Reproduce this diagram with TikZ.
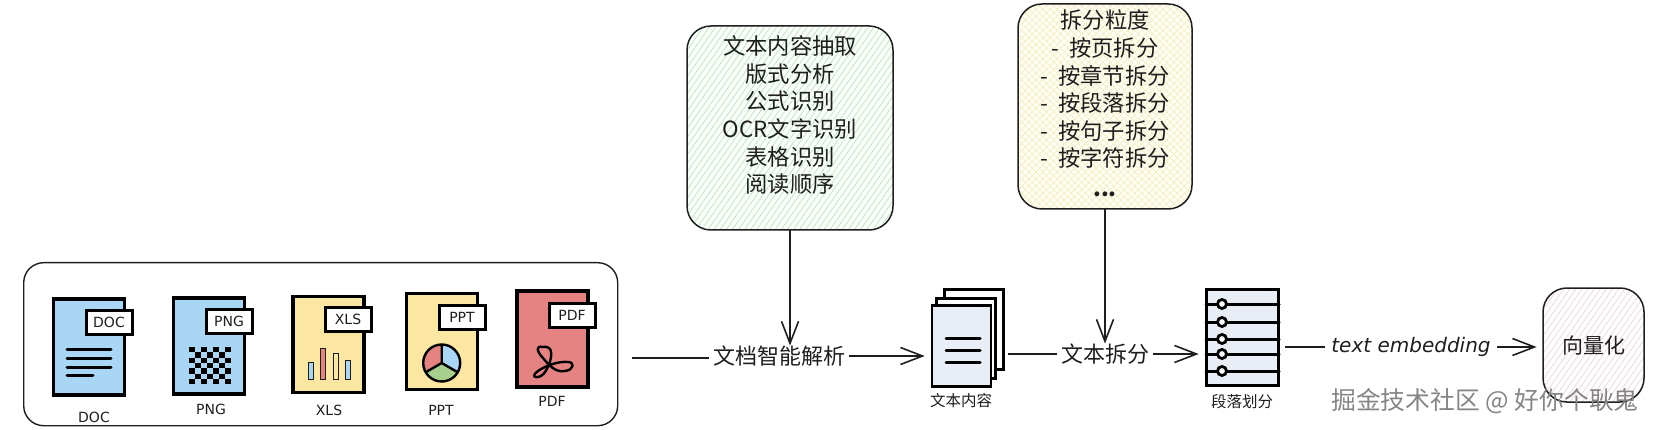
\documentclass[tikz,border=0pt]{standalone}
\usepackage{xcolor}
\usepackage{fontspec}
\usetikzlibrary{arrows.meta, positioning, patterns.meta}
\setmainfont{Noto Sans CJK SC}
\newfontfamily\handfont{DejaVu Sans}
\definecolor{myink}{HTML}{1e1e1e}
\definecolor{myblue}{HTML}{a9d6f5}
\definecolor{myyellow}{HTML}{fbe6a2}
\definecolor{myred}{HTML}{e58383}
\definecolor{mygreen}{HTML}{a8d08d}
\definecolor{mypage}{HTML}{e9edf6}
\definecolor{mymark}{HTML}{858585}
\definecolor{myhatchgreen}{HTML}{c4e3c8}
\definecolor{myhatchyellow}{HTML}{f3edc0}
\definecolor{myhatchred}{HTML}{f0d4d4}

\begin{document}
\begin{tikzpicture}[
  x=1pt, y=-1pt,
  every node/.style={text=myink, inner sep=0pt},
  group/.style={rectangle, rounded corners=20pt, draw=myink, line width=1.4pt, anchor=north west},
  hatchbox/.style={rectangle, rounded corners=24pt, draw=myink, line width=1.5pt, font=\fontsize{22.3}{27.6}\selectfont, align=center},
  filebody/.style={rectangle, draw=black, line width=3.2pt, minimum width=71pt, minimum height=96pt},
  filetag/.style={rectangle, draw=black, line width=3pt, fill=white, minimum width=46pt, minimum height=24pt, font=\handfont\fontsize{14}{14}\selectfont},
  filelabel/.style={font=\handfont\fontsize{14}{14}\selectfont},
  step label/.style={font=\fontsize{22}{22}\selectfont, inner xsep=4pt},
  small label/.style={font=\fontsize{15.5}{15.5}\selectfont},
  inkline/.style={line width=3pt, black, line cap=round},
  thinbox/.style={draw=myink, line width=1pt},
  page/.style={rectangle, draw=black, line width=2.6pt, fill=white, minimum width=59pt, minimum height=80pt},
  arr/.style={-{Straight Barb[length=22pt, width=17pt]}, line width=1.6pt, color=myink},
  feed/.style={line width=1.6pt, color=myink},
]
% source files
\node[group, minimum width=594pt, minimum height=163pt] (files) at (23,262) {};

\node[filebody, fill=myblue] (doc) at (89,347) {};
\node[filetag] (doctag) at (109,322) {DOC};
\node[filelabel] (doclabel) at (94,417) {DOC};
\draw[inkline] (67,349) -- (111,349);
\draw[inkline] (67,358) -- (111,358);
\draw[inkline] (67,367) -- (111,367);
\draw[inkline] (67,375) -- (93,375);

\node[filebody, fill=myblue] (png) at (209,346) {};
\node[filetag] (pngtag) at (229,321) {PNG};
\node[filelabel] (pnglabel) at (211,409) {PNG};
\foreach \i in {0,...,6}
  \foreach \j in {0,...,6} {
    \pgfmathparse{int(mod(\i+\j,2))}
    \ifnum\pgfmathresult=0
      \fill[black] (189+\i*6,347+\j*5.3) rectangle +(6,5.3);
    \fi
  }

\node[filebody, fill=myyellow] (xls) at (328.5,344.5) {};
\node[filetag] (xlstag) at (348,319.5) {XLS};
\node[filelabel] (xlslabel) at (329,410) {XLS};
\draw[thinbox, fill=myblue] (308,362) rectangle (313,379);
\draw[thinbox, fill=myred] (320,348) rectangle (325,379);
\draw[thinbox, fill=myyellow] (333,353) rectangle (338,379);
\draw[thinbox, fill=myblue] (345,360) rectangle (350,379);

\node[filebody, fill=myyellow] (ppt) at (442,341.5) {};
\node[filetag] (ppttag) at (462,317.5) {PPT};
\node[filelabel] (pptlabel) at (441,410) {PPT};
\coordinate (pie) at (441.7,363);
\fill[myred] (pie) -- (441.7,344.5) arc[start angle=90, end angle=210, x radius=18.5pt, y radius=18.5pt] -- cycle;
\fill[myblue] (pie) -- (441.7,344.5) arc[start angle=90, end angle=-30, x radius=18.5pt, y radius=18.5pt] -- cycle;
\fill[mygreen] (pie) -- ++(-16,9.25) arc[start angle=210, end angle=330, x radius=18.5pt, y radius=18.5pt] -- cycle;
\draw[black, line width=2.4pt] (pie) circle[radius=18.5pt];
\draw[black, line width=2.4pt] (441.7,344.5) -- (pie) -- ++(-16,9.25) (pie) -- ++(16,9.25);

\node[filebody, fill=myred] (pdf) at (552.5,339) {};
\node[filetag] (pdftag) at (572,315.5) {PDF};
\node[filelabel] (pdflabel) at (552,401) {PDF};
\draw[black, line width=2.4pt, line join=round]
  (543,347) .. controls (535,345) and (537,352) .. (543,358) .. controls (548,364) and (555,373) .. (565,371)
  .. controls (574,370) and (575,362) .. (568,362) .. controls (558,361) and (545,366) .. (538,371)
  .. controls (531,376) and (534,379) .. (541,376) .. controls (548,372) and (555,352) .. (549,348)
  .. controls (547,346) and (545,347) .. (543,347);

% pipeline
\coordinate (start) at (632,358);
\node[step label] (parse) at (779,356) {文档智能解析};
\node[hatchbox, minimum width=206pt, minimum height=204pt,
  preaction={fill=green!2}, pattern={Lines[angle=55, distance=5pt, line width=.8pt]}, pattern color=myhatchgreen] (extract) at (790,128)
  {文本内容抽取\\版式分析\\公式识别\\OCR文字识别\\表格识别\\阅读顺序\\\mbox{}};

\node[page] (back) at (974,329.5) {};
\node[page] (middle) at (966,338.5) {};
\node[page, fill=mypage, minimum height=81pt] (front) at (961.5,346) {};
\node[small label] (stacklabel) at (961,401) {文本内容};
\draw[inkline] (946,338) -- (980,338);
\draw[inkline] (946,350) -- (980,350);
\draw[inkline] (946,362) -- (980,362);

\node[step label] (split) at (1105,354) {文本拆分};
\node[hatchbox, minimum width=174pt, minimum height=205pt,
  preaction={fill=yellow!4},
  preaction={pattern={Lines[angle=-45, distance=5pt, line width=.7pt]}, pattern color=myhatchyellow},
  pattern={Lines[angle=45, distance=5pt, line width=.7pt]}, pattern color=myhatchyellow] (grain) at (1105,106.5)
  {拆分粒度\\-\ \ 按页拆分\\-\ \ 按章节拆分\\-\ \ 按段落拆分\\-\ \ 按句子拆分\\-\ \ 按字符拆分\\[2pt]\textbf{...}\\[-21pt]\mbox{}};

\node[rectangle, draw=black, line width=3.6pt, fill=mypage, minimum width=72pt, minimum height=96pt] (para) at (1242.5,337.5) {};
\node[small label] (paralabel) at (1242,402) {段落划分};
\draw[inkline] (1206,304) -- (1279,304);
\draw[inkline] (1206,322) -- (1279,322);
\draw[inkline] (1206,339) -- (1279,339);
\draw[inkline] (1206,354) -- (1279,354);
\draw[inkline] (1206,371) -- (1279,371);
\draw[black, line width=2.8pt, fill=white] (1222,304) circle[radius=4.5pt];
\draw[black, line width=2.8pt, fill=white] (1222,322) circle[radius=4.5pt];
\draw[black, line width=2.8pt, fill=white] (1222,339) circle[radius=4.5pt];
\draw[black, line width=2.8pt, fill=white] (1222,354) circle[radius=4.5pt];
\draw[black, line width=2.8pt, fill=white] (1222,371) circle[radius=4.5pt];

\node[font=\handfont\itshape\fontsize{20}{20}\selectfont, inner xsep=6pt] (embed) at (1411,347) {text embedding};
\node[hatchbox, minimum width=101pt, minimum height=114pt, font=\fontsize{21}{21}\selectfont,
  pattern={Lines[angle=55, distance=5pt, line width=.7pt]}, pattern color=myhatchred] (vector) at (1593.5,345) {向量化};
\node[font=\fontsize{24.8}{24.8}\selectfont, text=mymark] (mark) at (1485,401) {掘金技术社区 @ 好你个耿鬼};

\draw[feed] (start) -- (parse.west |- start);
\draw[arr] (parse.east) -- ([xshift=-6pt]parse.east -| front.west);
\draw[arr] (extract.south) -- (extract.south |- parse.north);
\draw[feed] ([xshift=3pt]split.west -| back.east) -- (split.west);
\draw[arr] (split.east) -- ([xshift=-6pt]split.east -| para.west);
\draw[arr] (grain.south) -- (grain.south |- split.north);
\draw[feed] ([xshift=5pt]embed.west -| para.east) -- (embed.west);
\draw[arr] (embed.east) -- ([xshift=-6pt]embed.east -| vector.west);

\useasboundingbox (0,0) rectangle (1656,430);
\end{tikzpicture}
\end{document}
